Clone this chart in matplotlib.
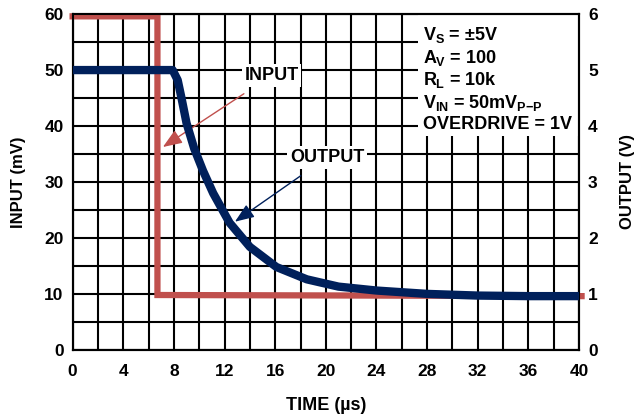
import matplotlib
matplotlib.use("Agg")
import matplotlib.pyplot as plt
from matplotlib.patches import Rectangle

plt.rcParams["font.family"] = ["Liberation Sans", "DejaVu Sans"]
plt.rcParams["font.weight"] = "bold"
plt.rcParams["axes.labelweight"] = "bold"
plt.rcParams["mathtext.fontset"] = "custom"
plt.rcParams["mathtext.rm"] = "Liberation Sans:bold"
plt.rcParams["mathtext.it"] = "Liberation Sans:bold"
plt.rcParams["mathtext.bf"] = "Liberation Sans:bold"

# 输入方波 (mV)
input_time = [0.0, 6.7, 6.7, 40.2]
input_mv = [59.6, 59.6, 9.8, 9.6]

# 输出响应 (V)
output_time = [0.0, 7.9, 8.3, 8.6, 9.0, 9.6, 10.3, 11.1, 12.4, 14.0,
               16.1, 18.5, 21.0, 24.0, 28.0, 32.0, 36.0, 40.0]
output_v = [5.0, 5.0, 4.82, 4.5, 4.05, 3.6, 3.2, 2.8, 2.27, 1.84,
            1.48, 1.26, 1.13, 1.06, 1.0, 0.97, 0.96, 0.96]

x_ticks = [0, 4, 8, 12, 16, 20, 24, 28, 32, 36, 40]
left_ticks = [0, 10, 20, 30, 40, 50, 60]
right_ticks = [0, 1, 2, 3, 4, 5, 6]

conditions = [
    r"$V_S$ = ±5V",
    r"$A_V$ = 100",
    r"$R_L$ = 10k",
    r"$V_{IN}$ = 50m$V_{P{-}P}$",
    "OVERDRIVE = 1V",
]

RED = "#c0504d"
NAVY = "#00205b"

fig = plt.figure(figsize=(6.37, 4.15), dpi=100)
ax = fig.add_axes([0.114, 0.157, 0.795, 0.809])
ax2 = ax.twinx()

# 网格
ax.set_xlim(0, 40)
ax.set_ylim(0, 60)
ax2.set_ylim(0, 6)
ax.set_xticks(x_ticks)
ax.set_xticks(range(0, 41, 2), minor=True)
ax.set_yticks(left_ticks)
ax.set_yticks(range(0, 61, 5), minor=True)
ax.grid(True, which="both", color="black", linewidth=1.5)
ax.set_axisbelow(True)
ax2.set_yticks(right_ticks)

for a in (ax, ax2):
    for s in a.spines.values():
        s.set_linewidth(1.5)
    a.tick_params(which="both", length=0, labelsize=12.5)
    for lbl in a.get_xticklabels() + a.get_yticklabels():
        lbl.set_fontweight("bold")
ax.tick_params(axis="x", pad=10)
ax.tick_params(axis="y", pad=6.5)
ax2.tick_params(axis="y", pad=6.5)

# 条件文字框
ax.add_patch(Rectangle((27.3, 38.3), 12.6, 21.6, facecolor="white",
                       edgecolor="none", zorder=2))
for i, line in enumerate(conditions):
    ax.text(27.7, 56.2 - i * 4.0, line, fontsize=13, va="center",
            ha="left", zorder=3)

# 曲线
ax.plot(input_time, input_mv, color=RED, linewidth=4.5, clip_on=False,
        zorder=3, solid_joinstyle="miter")
ax2.plot(output_time, output_v, color=NAVY, linewidth=6, zorder=3)

# 标注
ax.annotate("INPUT", xy=(7.13, 36.25), xytext=(15.7, 49.0),
            fontsize=13, ha="center", va="center", zorder=4,
            bbox=dict(facecolor="white", edgecolor="none", pad=2),
            arrowprops=dict(arrowstyle="-|>,head_length=0.9,head_width=0.35",
                            color=RED, linewidth=1, shrinkA=9, shrinkB=0))
ax2.annotate("OUTPUT", xy=(12.82, 2.29), xytext=(20.1, 3.44),
             fontsize=13, ha="center", va="center", zorder=4,
             bbox=dict(facecolor="white", edgecolor="none", pad=2),
             arrowprops=dict(arrowstyle="-|>,head_length=0.9,head_width=0.35",
                             color=NAVY, linewidth=1, shrinkA=9, shrinkB=0))

ax.set_xlabel("TIME (µs)", fontsize=13, fontweight="bold", labelpad=13)
ax.set_ylabel("INPUT (mV)", fontsize=12, fontweight="bold", labelpad=13)
ax2.set_ylabel("OUTPUT (V)", fontsize=12, fontweight="bold", labelpad=16)

fig.savefig("out.png", dpi=100)
